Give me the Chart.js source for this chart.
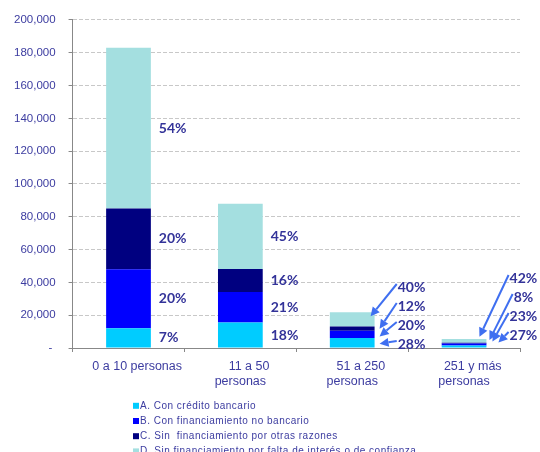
<!DOCTYPE html>
<html lang="es">
<head>
<meta charset="UTF-8">
<title>Empresas por tamaño y situación de financiamiento</title>
<script src="https://cdn.jsdelivr.net/npm/chart.js@4"></script>
<style>
  body { margin: 0; background: #fff; }
  .chart-container { position: relative; width: 540px; height: 452px; }
</style>
</head>
<body>
<div class="chart-container"><canvas id="Chart"></canvas></div>
<script>
// Tamaño de empresa (personas ocupadas)
const categories = [
  ["0 a 10 personas"],
  ["11 a 50", "personas"],
  ["51 a 250", "personas"],
  ["251 y más", "personas"]
];

const seriesNames = [
  "A. Con crédito bancario",
  "B. Con financiamiento no bancario",
  "C. Sin  financiamiento por otras razones",
  "D. Sin financiamiento por falta de interés o de confianza"
];

// Número de empresas por situación
const conCreditoBancario = [12000, 15500, 6100, 1500];
const conFinNoBancario = [36000, 18600, 4400, 1250];
const sinFinOtrasRazones = [37000, 14100, 2600, 450];
const sinFinFaltaInteres = [98000, 39700, 8700, 2300];

const yTicks = [0, 20000, 40000, 60000, 80000, 100000, 120000, 140000, 160000, 180000, 200000];

const seriesColors = ["#00ccff", "#0000ff", "#000080", "#a4dfe0"];
const textColor = "#3c3ca0";
const pctColor = "#333399";
const arrowColor = "#3f6ff0";

// small bars get their percentages off to the side with arrows
const callouts = [
  null,
  null,
  { drop: 4, dx: [5, 5, 5, -4], dy: [1, 2, 0, -3] },
  { drop: 13, dx: [12, 6, 3, -7], dy: [-4, -3, -3, -4] }
];

function drawArrow(ctx, x1, y1, x2, y2) {
  const ang = Math.atan2(y2 - y1, x2 - x1);
  const head = 9, half = 4.5;
  const bx = x2 - head * Math.cos(ang);
  const by = y2 - head * Math.sin(ang);
  ctx.strokeStyle = arrowColor;
  ctx.fillStyle = arrowColor;
  ctx.lineWidth = 2;
  ctx.beginPath();
  ctx.moveTo(x1, y1);
  ctx.lineTo(bx, by);
  ctx.stroke();
  ctx.beginPath();
  ctx.moveTo(x2, y2);
  ctx.lineTo(bx + half * Math.sin(ang), by - half * Math.cos(ang));
  ctx.lineTo(bx - half * Math.sin(ang), by + half * Math.cos(ang));
  ctx.closePath();
  ctx.fill();
}

const pctLabels = {
  id: "pctLabels",
  afterDatasetsDraw(chart) {
    const ctx = chart.ctx;
    const datasets = chart.data.datasets;
    const zeroY = chart.scales.y.getPixelForValue(0);
    categories.forEach((cat, i) => {
      const total = datasets.reduce((s, ds) => s + ds.data[i], 0);
      const callout = callouts[i];
      datasets.forEach((ds, d) => {
        const bar = chart.getDatasetMeta(d).data[i];
        const right = bar.x + bar.width / 2;
        const mid = (bar.y + bar.base) / 2;
        const text = Math.round(ds.data[i] / total * 100) + "%";
        ctx.save();
        ctx.font = "bold 14px Lato";
        ctx.fillStyle = pctColor;
        ctx.textBaseline = "middle";
        if (!callout) {
          ctx.textAlign = "left";
          ctx.fillText(text, right + 8, mid);
        } else {
          const cx = right + 37;
          const ly = zeroY - callout.drop - d * 19;
          ctx.textAlign = "center";
          ctx.fillText(text, cx, ly);
          const w = ctx.measureText(text).width;
          drawArrow(ctx, cx - w / 2 - 1, ly - 3, right + callout.dx[d], mid + callout.dy[d]);
        }
        ctx.restore();
      });
    });
  }
};

const listLegend = {
  id: "listLegend",
  afterDraw(chart) {
    const ctx = chart.ctx;
    ctx.save();
    ctx.font = "10px 'Liberation Sans'";
    ctx.letterSpacing = "0.5px";
    ctx.textBaseline = "middle";
    chart.data.datasets.forEach((ds, d) => {
      const y = 405.8 + d * 15.2;
      ctx.fillStyle = ds.backgroundColor;
      ctx.fillRect(133, y - 3, 6, 6);
      ctx.fillStyle = textColor;
      ctx.fillText(ds.label, 140, y);
    });
    ctx.restore();
  }
};

const seriesData = [conCreditoBancario, conFinNoBancario, sinFinOtrasRazones, sinFinFaltaInteres];

new Chart(document.getElementById("Chart"), {
  type: "bar",
  data: {
    labels: categories,
    datasets: seriesData.map((values, d) => ({
      label: seriesNames[d],
      data: values,
      backgroundColor: seriesColors[d],
      borderWidth: 0,
      barPercentage: 0.4,
      categoryPercentage: 1.0
    }))
  },
  options: {
    responsive: true,
    maintainAspectRatio: false,
    animation: false,
    devicePixelRatio: 1,
    layout: { padding: { top: 18, left: 1, right: 20, bottom: 56 } },
    plugins: {
      legend: { display: false },
      tooltip: { enabled: false }
    },
    scales: {
      x: {
        stacked: true,
        grid: { drawOnChartArea: false, drawTicks: true, tickLength: 4, tickColor: "#888" },
        border: { color: "#888" },
        ticks: {
          color: textColor,
          font: { family: "'Liberation Sans'", size: 12.5 },
          padding: 7,
          maxRotation: 0,
          autoSkip: false,
          // indent the first line a little
          callback: (v, i) => categories[i].map((line, k) => (k === 0 ? "     " + line : line))
        }
      },
      y: {
        stacked: true,
        min: 0,
        max: 200000,
        afterBuildTicks: (axis) => { axis.ticks = yTicks.map(v => ({ value: v })); },
        grid: { color: "#c8c8c8", tickColor: "#888", tickLength: 4 },
        border: { color: "#888", dash: [4, 2] },
        ticks: {
          color: textColor,
          font: { family: "'Liberation Sans'", size: 11.5 },
          padding: 13,
          callback: (v) => (v === 0 ? "- " : v.toLocaleString("en-US"))
        }
      }
    }
  },
  plugins: [pctLabels, listLegend]
});
</script>
</body>
</html>
